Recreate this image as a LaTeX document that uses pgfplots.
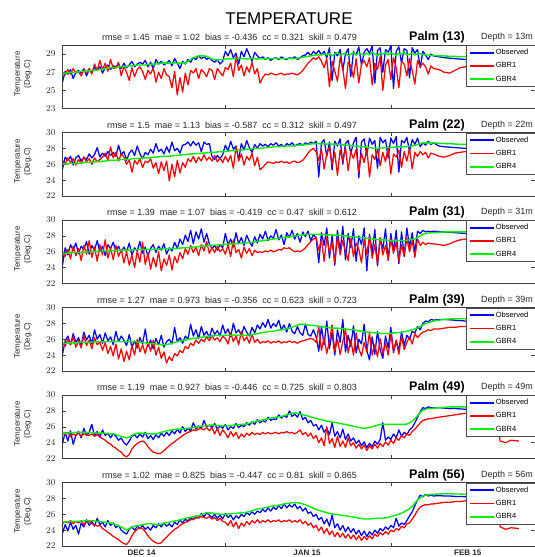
\documentclass[border=0pt]{standalone}
\usepackage{pgfplots}
\usepackage{pgfplotstable}
\pgfplotsset{compat=1.18}
\usepackage{fontspec}
\setmainfont{Liberation Sans}
\definecolor{obsblue}{RGB}{0,0,255}
\definecolor{gbrred}{RGB}{255,0,0}
\definecolor{gbrgreen}{RGB}{0,240,0}

\pgfplotstableread{
x o r g
0.5 25.9 27.0 26.9
1 27.1 26.7 26.9
1.5 26.8 27.3 26.95
2 27.3 26.8 27.0
2.5 26.3 27.4 27.0
3 27.0 26.9 27.0
3.5 27.2 27.1 27.05
4 26.9 26.6 27.1
4.5 27.4 27.3 27.1
5 26.6 27.0 27.1
5.5 27.3 27.4 27.15
6 27.0 26.8 27.2
6.5 27.5 27.9 27.2
7 27.2 27.2 27.25
7.5 27.6 28.3 27.3
8 26.9 27.3 27.35
8.5 27.5 28.0 27.4
9 27.8 27.1 27.45
9.5 27.3 28.4 27.5
10 27.7 27.4 27.5
10.5 27.6 27.5 27.5
11 27.9 28.1 27.55
11.5 27.4 26.6 27.6
12 28.0 27.6 27.6
12.5 27.5 27.0 27.65
13 27.8 26.1 27.7
13.5 28.2 27.5 27.7
14 27.6 26.5 27.75
14.5 27.9 27.3 27.8
15 28.1 27.6 27.8
15.5 27.9 27.1 27.8
16 28.3 26.2 27.8
16.5 27.6 27.2 27.85
17 28.1 26.8 27.9
17.5 27.4 27.5 27.9
18 28.4 25.9 27.9
18.5 27.9 27.0 27.95
19 28.2 26.3 28.0
19.5 27.8 27.4 28.0
20 28.0 26.7 28.0
20.5 28.3 26.5 28.0
21 27.7 25.3 28.0
21.5 28.5 27.1 28.05
22 28.0 24.5 28.0
22.5 27.4 26.4 28.0
23 28.2 24.8 28.05
23.5 27.9 26.9 28.0
24 28.4 25.6 28.2
24.5 28.1 27.2 28.4
25 28.6 26.9 28.6
25.5 28.4 27.4 28.7
26 28.8 26.3 28.8
26.5 28.5 27.3 28.8
27 28.7 27.0 28.8
27.5 28.4 26.5 28.75
28 28.6 27.4 28.6
28.5 28.3 27.2 28.45
29 28.1 26.2 28.4
29.5 28.4 27.4 28.35
30 27.9 27.0 28.4
30.5 28.2 26.6 28.4
31 29.3 27.5 28.45
31.5 28.8 27.3 28.5
32 29.5 28.0 28.45
32.5 28.6 26.5 28.5
33 29.1 28.7 28.5
33.5 27.9 27.2 28.55
34 29.3 27.8 28.5
34.5 28.7 26.6 28.5
35 29.6 27.6 28.45
35.5 28.9 27.0 28.5
36 28.2 28.1 28.5
36.5 29.2 26.8 28.5
37 28.8 27.4 28.45
37.5 28.5 25.8 28.5
38 28.7 26.4 28.5
38.5 28.4 26.8 28.45
39 28.6 26.7 28.5
39.5 28.3 26.9 28.5
40 28.5 26.8 28.5
40.5 28.6 26.7 28.55
41 28.4 26.8 28.5
41.5 28.7 26.9 28.5
42 28.5 26.7 28.5
42.5 28.4 26.8 28.5
43 28.6 26.8 28.55
43.5 28.5 26.9 28.5
44 28.7 26.8 28.5
44.5 28.4 26.7 28.55
45 28.6 26.9 28.6
45.5 28.8 27.2 28.65
46 28.9 27.6 28.7
46.5 29.2 28.0 28.75
47 28.8 28.3 28.8
47.5 29.3 28.6 28.85
48 29.0 28.4 28.9
48.5 29.4 28.7 28.9
49 28.9 28.2 28.95
49.5 29.3 27.5 29.0
50 28.6 28.5 28.9
50.5 29.7 25.4 29.1
51 26.1 28.2 28.8
51.5 29.2 27.1 29.0
52 28.8 26.0 29.2
52.5 29.5 28.6 28.9
53 27.2 27.4 29.0
53.5 29.0 25.2 29.1
54 29.6 28.1 28.85
54.5 26.5 27.7 29.0
55 29.3 26.4 29.2
55.5 28.9 28.5 28.9
56 29.8 25.8 29.1
56.5 27.8 27.9 29.0
57 29.2 28.3 28.9
57.5 29.6 27.6 29.1
58 29.1 28.6 28.9
58.5 29.9 25.6 29.2
59 25.8 28.0 29.0
59.5 29.4 27.3 28.8
60 29.7 28.7 29.1
60.5 27.0 25.0 29.0
61 29.5 27.8 29.2
61.5 29.2 28.4 28.9
62 29.9 26.2 29.1
62.5 25.2 28.6 29.0
63 29.3 27.5 28.85
63.5 29.8 25.3 29.1
64 28.0 28.2 29.0
64.5 29.6 27.9 29.2
65 29.4 26.6 28.9
65.5 26.4 28.5 29.0
66 29.7 27.2 29.1
66.5 29.1 25.7 28.9
67 29.5 28.3 29.0
67.5 27.5 27.6 29.05
68 29.3 28.0 28.95
68.5 28.9 27.6 28.9
69 28.4 26.8 28.9
69.5 29.0 27.7 28.85
70 28.8 27.4 28.85
71 28.7 27.3 28.8
72 28.6 27.0 28.8
73 28.55 26.9 28.75
74 28.5 27.2 28.75
75 28.45 27.5 28.7
76 28.4 27.6 28.7
78 28.35 27.6 28.65
80 28.3 27.5 28.6
82 28.25 27.4 28.6
84 28.2 27.3 28.6
86 28.2 27.3 28.6
}\PA

\pgfplotstableread{
x o r g
0.5 25.4 26.5 26.0
1 26.9 26.0 26.1
1.5 26.5 26.8 26.0
2 27.0 26.2 26.1
2.5 25.9 26.7 26.1
3 26.8 25.9 26.15
3.5 27.1 26.6 26.1
4 26.4 26.1 26.2
4.5 26.9 26.9 26.2
5 26.6 26.3 26.25
5.5 27.3 26.7 26.2
6 26.8 26.0 26.3
6.5 27.2 26.8 26.3
7 28.1 26.3 26.35
7.5 26.9 26.6 26.3
8 27.4 26.9 26.4
8.5 27.0 27.4 26.4
9 27.6 26.5 26.45
9.5 27.1 28.2 26.5
10 27.5 26.8 26.5
10.5 27.0 27.5 26.5
11 28.4 26.4 26.55
11.5 27.2 27.3 26.6
12 27.6 26.9 26.6
12.5 26.5 26.0 26.65
13 27.4 26.6 26.6
13.5 27.8 25.0 26.7
14 27.1 26.5 26.7
14.5 28.3 26.0 26.7
15 27.3 26.7 26.75
15.5 26.7 25.6 26.8
16 27.5 26.4 26.8
16.5 27.2 26.2 26.8
17 27.9 26.7 26.85
17.5 27.4 25.5 26.9
18 28.6 26.2 26.9
18.5 27.6 24.8 26.95
19 27.9 26.3 27.0
19.5 27.3 25.2 27.0
20 28.2 26.4 27.0
20.5 27.5 23.9 27.0
21 28.8 26.0 27.05
21.5 27.7 24.4 27.1
22 28.0 26.5 27.1
22.5 27.4 24.9 27.15
23 28.4 26.2 27.2
23.5 28.5 25.6 27.2
24 28.8 26.7 27.25
24.5 28.3 26.3 27.3
25 28.9 27.0 27.3
25.5 28.4 26.2 27.35
26 28.7 26.9 27.35
26.5 27.6 26.4 27.4
27 28.8 27.2 27.4
27.5 28.5 26.5 27.45
28 28.6 26.9 27.5
28.5 27.0 26.4 27.5
29 26.6 27.1 27.5
29.5 27.1 26.3 27.55
30 26.7 26.8 27.6
30.5 27.2 26.2 27.6
31 28.4 27.0 27.6
31.5 27.7 26.3 27.65
32 28.9 27.1 27.7
32.5 27.9 25.5 27.7
33 28.3 28.2 27.75
33.5 26.6 26.4 27.8
34 28.6 27.3 27.8
34.5 27.8 25.9 27.85
35 29.0 27.0 27.9
35.5 28.1 26.5 27.9
36 27.5 27.4 27.95
36.5 28.5 25.8 28.0
37 28.0 26.9 28.0
37.5 28.6 25.3 28.0
38 28.3 25.6 28.05
38.5 28.5 26.0 28.1
39 28.2 26.3 28.1
39.5 28.6 26.2 28.15
40 28.4 26.1 28.2
40.5 28.7 26.3 28.2
41 28.3 26.2 28.2
41.5 28.5 26.4 28.25
42 28.2 26.2 28.3
42.5 28.6 26.3 28.3
43 28.4 26.1 28.3
43.5 28.7 26.3 28.3
44 28.3 26.4 28.35
44.5 28.5 26.2 28.4
45 28.6 26.3 28.4
45.5 28.4 26.5 28.45
46 28.7 26.9 28.5
46.5 28.5 27.4 28.5
47 28.8 27.8 28.55
47.5 28.6 28.0 28.6
48 28.9 27.6 28.6
48.5 24.4 26.5 28.6
49 28.7 27.9 28.55
49.5 29.1 25.4 28.6
50 27.0 27.3 28.5
50.5 28.8 28.2 28.6
51 25.3 26.0 28.5
51.5 28.9 27.5 28.55
52 28.3 24.6 28.5
52.5 29.2 27.8 28.5
53 26.0 26.4 28.45
53.5 28.6 28.1 28.4
54 29.0 25.2 28.4
54.5 27.4 27.6 28.35
55 28.7 26.7 28.3
55.5 29.4 27.9 28.3
56 24.3 25.0 28.25
56.5 28.8 27.4 28.2
57 29.2 26.2 28.2
57.5 27.1 28.0 28.15
58 29.3 24.4 28.1
58.5 28.5 27.2 28.05
59 29.0 26.6 28.0
59.5 25.5 27.9 28.0
60 29.4 25.8 28.05
60.5 28.7 27.5 28.05
61 29.1 26.3 28.1
61.5 26.8 28.2 28.1
62 29.3 24.8 28.1
62.5 28.6 27.3 28.15
63 29.5 26.9 28.15
63.5 25.0 27.8 28.2
64 29.0 25.6 28.2
64.5 28.7 27.6 28.2
65 29.4 26.4 28.2
65.5 27.6 28.0 28.25
66 29.1 25.4 28.3
66.5 28.5 27.5 28.4
67 29.3 27.0 28.5
67.5 28.2 27.6 28.6
68 28.7 27.2 28.7
68.5 28.4 27.5 28.7
69 28.9 26.8 28.7
69.5 28.5 27.4 28.65
70 28.7 27.3 28.7
71 28.3 27.0 28.65
72 28.2 26.9 28.6
73 28.15 27.1 28.6
74 28.1 27.4 28.55
75 28.05 27.5 28.5
76 28.0 27.6 28.5
78 28.0 27.6 28.5
80 27.95 27.6 28.45
82 27.9 27.5 28.4
84 27.9 27.5 28.4
86 27.9 27.5 28.4
}\PB

\pgfplotstableread{
x o r g
0.5 24.3 26.0 25.8
1 26.5 25.4 25.8
1.5 25.6 26.3 25.85
2 26.9 25.1 25.85
2.5 26.2 26.7 25.9
3 27.1 25.5 25.9
3.5 25.8 26.4 25.9
4 26.7 24.9 25.95
4.5 26.3 26.8 25.95
5 27.3 25.7 26.0
5.5 25.7 27.4 26.0
6 26.8 25.3 26.0
6.5 26.2 26.6 26.05
7 27.4 24.8 26.05
7.5 26.0 26.9 26.1
8 26.7 25.6 26.1
8.5 25.5 27.5 26.1
9 26.9 25.2 26.1
9.5 26.4 26.5 26.15
10 27.2 25.0 26.15
10.5 26.1 26.8 26.2
11 26.7 25.4 26.2
11.5 25.9 26.3 26.2
12 26.6 24.6 26.2
12.5 26.0 26.0 26.2
13 27.1 24.3 26.2
13.5 25.6 25.6 26.25
14 26.5 24.0 26.25
14.5 26.1 26.1 26.25
15 27.3 24.7 26.3
15.5 25.8 27.2 26.3
16 26.6 24.4 26.3
16.5 25.5 25.8 26.3
17 26.4 23.8 26.3
17.5 26.9 25.3 26.3
18 25.9 24.1 26.3
18.5 26.7 26.0 26.3
19 26.2 23.6 26.35
19.5 27.0 25.1 26.35
20 25.7 24.3 26.35
20.5 26.5 25.6 26.4
21 26.1 23.7 26.4
21.5 27.2 25.4 26.4
22 26.4 24.6 26.45
22.5 27.6 25.9 26.45
23 26.9 25.1 26.5
23.5 28.1 26.4 26.5
24 27.3 25.7 26.5
24.5 28.7 26.8 26.55
25 27.0 25.9 26.6
25.5 28.5 26.6 26.6
26 27.6 25.5 26.65
26.5 28.9 26.9 26.7
27 27.2 26.1 26.7
27.5 28.3 27.3 26.75
28 27.0 25.8 26.8
28.5 26.4 26.5 26.8
29 26.8 25.9 26.85
29.5 26.2 26.7 26.85
30 26.9 26.0 26.9
30.5 26.5 26.4 26.9
31 28.3 25.7 26.95
31.5 26.9 26.9 26.95
32 27.6 25.4 27.0
32.5 26.6 27.5 27.0
33 28.4 25.9 27.0
33.5 27.0 26.3 27.05
34 27.8 25.2 27.05
34.5 26.8 26.6 27.1
35 28.1 25.8 27.1
35.5 27.3 26.4 27.15
36 26.7 25.5 27.2
36.5 27.9 26.2 27.25
37 27.1 25.9 27.3
37.5 28.2 26.0 27.35
38 27.6 25.9 27.4
38.5 28.6 26.1 27.45
39 27.4 26.0 27.5
39.5 28.0 26.2 27.55
40 27.7 26.0 27.6
40.5 28.8 26.1 27.65
41 27.5 26.3 27.7
41.5 28.1 26.2 27.75
42 26.9 26.5 27.8
42.5 28.4 26.4 27.85
43 27.8 26.5 27.9
43.5 28.7 26.2 27.95
44 27.6 26.0 28.0
44.5 28.3 26.1 28.05
45 27.2 26.0 28.1
45.5 28.5 26.2 28.1
46 27.9 26.5 28.15
46.5 28.6 26.9 28.2
47 27.4 27.3 28.2
47.5 28.2 27.6 28.2
48 27.7 27.8 28.2
48.5 24.6 26.2 28.2
49 28.4 27.5 28.15
49.5 26.8 24.8 28.2
50 29.0 27.8 28.1
50.5 25.2 25.9 28.15
51 28.1 27.2 28.1
51.5 24.3 24.6 28.1
52 28.7 27.9 28.1
52.5 26.0 25.6 28.05
53 29.2 27.4 28.0
53.5 25.0 26.0 28.0
54 28.3 24.9 27.95
54.5 26.5 27.7 27.9
55 28.9 25.4 27.9
55.5 24.8 27.1 27.85
56 28.0 26.3 27.8
56.5 26.9 24.6 27.8
57 29.0 27.6 27.75
57.5 23.6 25.7 27.7
58 28.2 27.9 27.65
58.5 25.9 25.2 27.6
59 28.8 26.9 27.6
59.5 24.2 24.5 27.55
60 27.7 27.8 27.5
60.5 26.3 25.6 27.5
61 28.9 26.8 27.5
61.5 24.9 25.0 27.45
62 28.3 27.6 27.4
62.5 26.1 25.8 27.4
63 28.7 27.2 27.4
63.5 24.5 24.8 27.4
64 28.5 26.9 27.45
64.5 25.4 25.5 27.4
65 29.0 27.7 27.45
65.5 26.6 26.0 27.5
66 28.4 27.4 27.55
66.5 25.9 25.3 27.6
67 28.6 27.6 27.8
67.5 28.3 26.8 28.0
68 28.7 27.2 28.2
68.5 28.5 26.9 28.3
69 28.6 27.1 28.35
69.5 28.5 27.0 28.4
70 28.6 27.0 28.4
71 28.55 26.9 28.45
72 28.5 26.8 28.5
73 28.45 27.0 28.5
74 28.4 27.3 28.5
75 28.35 27.5 28.5
76 28.3 27.6 28.5
78 28.3 27.6 28.45
80 28.25 27.6 28.4
82 28.2 27.5 28.4
84 28.2 27.5 28.4
86 28.2 27.5 28.4
}\PC

\pgfplotstableread{
x o r g
0.5 24.1 25.6 25.5
1 25.8 25.1 25.5
1.5 26.4 26.0 25.5
2 25.3 25.3 25.55
2.5 26.7 26.3 25.55
3 25.6 25.0 25.55
3.5 26.2 25.8 25.6
4 25.2 24.9 25.6
4.5 26.9 26.5 25.6
5 25.9 25.2 25.6
5.5 26.5 25.9 25.6
6 25.4 24.8 25.65
6.5 27.2 26.2 25.65
7 26.0 25.3 25.65
7.5 26.6 25.7 25.7
8 25.5 24.6 25.7
8.5 26.8 25.6 25.7
9 25.8 24.2 25.7
9.5 26.3 25.1 25.7
10 25.3 23.9 25.7
10.5 27.0 25.4 25.7
11 25.7 23.5 25.75
11.5 26.4 24.8 25.7
12 25.9 23.2 25.7
12.5 25.2 24.5 25.7
13 26.6 23.4 25.7
13.5 25.0 25.2 25.7
14 25.8 24.0 25.7
14.5 24.9 26.0 25.65
15 26.2 24.4 25.6
15.5 25.4 25.3 25.6
16 27.3 24.2 25.55
16.5 25.1 25.6 25.5
17 25.9 24.5 25.5
17.5 24.8 25.9 25.45
18 26.1 24.0 25.4
18.5 25.3 25.0 25.35
19 26.5 23.6 25.3
19.5 25.0 24.4 25.3
20 25.7 23.0 25.35
20.5 26.0 23.8 25.4
21 25.4 23.3 25.5
21.5 27.5 24.2 25.6
22 25.7 23.9 25.7
22.5 26.2 24.6 25.75
23 25.5 24.3 25.8
23.5 26.4 25.1 25.9
24 26.0 24.8 26.0
24.5 27.9 25.5 26.05
25 26.4 25.2 26.1
25.5 27.2 25.9 26.15
26 26.1 25.5 26.2
26.5 27.6 26.0 26.25
27 26.5 25.7 26.3
27.5 27.0 26.3 26.35
28 26.2 25.8 26.4
28.5 27.4 26.5 26.4
29 26.6 25.9 26.45
29.5 27.1 26.2 26.5
30 26.4 25.7 26.5
30.5 27.8 26.4 26.5
31 26.7 26.1 26.5
31.5 27.3 25.4 26.5
32 26.3 26.8 26.5
32.5 28.0 25.7 26.55
33 26.8 26.4 26.5
33.5 27.2 25.3 26.5
34 26.5 27.0 26.5
34.5 27.6 25.8 26.5
35 26.9 26.3 26.5
35.5 26.4 25.5 26.55
36 27.5 26.6 26.6
36.5 26.8 25.6 26.65
37 27.8 26.0 26.7
37.5 27.3 25.5 26.8
38 28.1 25.7 26.85
38.5 27.5 25.6 26.9
39 28.5 25.8 26.95
39.5 27.4 25.5 27.0
40 28.0 25.7 27.0
40.5 27.6 25.6 27.1
41 28.4 25.8 27.15
41.5 27.2 25.5 27.2
42 27.8 25.7 27.25
42.5 26.9 25.6 27.3
43 28.0 25.8 27.4
43.5 27.0 25.6 27.5
44 26.7 25.7 27.65
44.5 27.6 25.5 27.8
45 26.8 25.7 27.9
45.5 26.5 25.8 27.9
46 27.9 25.9 27.85
46.5 26.6 26.0 27.8
47 26.4 26.1 27.75
47.5 27.2 26.0 27.75
48 26.3 25.6 27.7
48.5 24.5 27.6 27.65
49 27.6 24.6 27.6
49.5 25.3 26.2 27.55
50 28.3 24.2 27.5
50.5 24.8 25.8 27.45
51 26.9 27.8 27.4
51.5 24.0 24.5 27.4
52 27.2 26.0 27.4
52.5 25.6 24.1 27.35
53 28.5 25.7 27.3
53.5 24.4 27.2 27.3
54 26.5 24.3 27.25
54.5 25.1 25.9 27.2
55 27.7 24.0 27.2
55.5 24.3 26.8 27.1
56 26.0 24.8 27.05
56.5 25.4 23.9 27.0
57 27.9 25.6 26.95
57.5 24.6 24.4 26.9
58 23.4 26.9 26.9
58.5 26.3 24.0 26.85
59 24.1 25.3 26.8
59.5 27.0 23.8 26.8
60 24.7 26.1 26.75
60.5 23.6 24.2 26.7
61 26.4 25.5 26.7
61.5 24.9 24.0 26.7
62 27.5 26.6 26.75
62.5 24.3 24.5 26.8
63 25.8 25.9 26.8
63.5 24.6 24.1 26.85
64 26.9 26.4 26.9
64.5 25.2 24.7 26.95
65 26.5 25.6 27.0
65.5 26.0 26.3 27.1
66 27.0 25.4 27.2
66.5 26.8 26.7 27.3
67 27.6 26.2 27.4
67.5 27.2 26.6 27.6
68 28.0 26.9 27.8
68.5 28.3 27.0 28.0
69 28.2 27.2 28.1
69.5 28.5 27.1 28.2
70 28.4 27.3 28.3
71 28.5 27.3 28.4
72 28.5 27.4 28.5
73 28.45 27.5 28.55
74 28.4 27.5 28.6
75 28.35 27.6 28.6
76 28.3 27.6 28.6
78 28.3 27.6 28.55
80 28.25 27.6 28.5
82 28.2 27.5 28.5
84 28.2 27.5 28.5
86 28.2 27.5 28.5
}\PD

\pgfplotstableread{
x o r g
0.5 23.9 25.2 25.2
1 25.3 25.0 25.2
1.5 24.2 25.3 25.2
2 25.5 24.8 25.25
2.5 23.8 25.1 25.25
3 24.9 24.9 25.3
3.5 25.4 25.2 25.3
4 24.6 24.8 25.3
4.5 25.8 25.1 25.3
5 24.9 25.0 25.3
5.5 25.3 24.9 25.3
6 26.3 25.1 25.25
6.5 24.8 24.8 25.25
7 25.4 25.0 25.2
7.5 24.7 24.7 25.2
8 25.6 24.5 25.2
8.5 24.9 24.3 25.15
9 25.2 24.0 25.15
9.5 24.6 23.8 25.1
10 25.1 23.5 25.1
10.5 24.8 23.3 25.0
11 24.3 23.0 24.9
11.5 24.6 22.8 24.8
12 24.0 22.4 24.7
12.5 23.7 22.2 24.6
13 24.2 22.5 24.7
13.5 24.8 23.2 24.9
14 25.0 23.6 25.1
14.5 24.6 23.9 25.2
15 25.1 24.1 25.2
15.5 24.7 24.2 25.2
16 25.3 24.0 25.15
16.5 24.5 23.5 25.1
17 24.9 23.1 25.1
17.5 24.4 22.8 25.1
18 25.0 22.7 25.1
18.5 24.6 22.6 25.2
19 25.2 22.7 25.3
19.5 24.8 23.0 25.4
20 25.3 23.3 25.5
20.5 24.9 23.6 25.55
21 25.5 23.9 25.6
21.5 25.1 24.1 25.65
22 25.7 24.4 25.7
22.5 25.2 24.6 25.7
23 26.0 24.9 25.75
23.5 25.4 25.1 25.8
24 25.8 25.3 25.8
24.5 25.5 25.4 25.85
25 26.5 25.6 25.9
25.5 25.7 25.5 25.95
26 26.1 25.7 26.0
26.5 25.8 25.8 26.05
27 26.8 25.6 26.1
27.5 26.0 25.9 26.15
28 26.2 25.5 26.2
28.5 25.9 25.9 26.2
29 26.4 25.1 26.2
29.5 25.7 25.8 26.15
30 26.1 24.9 26.15
30.5 25.8 25.6 26.1
31 26.3 25.2 26.1
31.5 25.6 24.6 26.1
32 26.0 25.4 26.15
32.5 25.8 24.8 26.2
33 26.4 25.3 26.2
33.5 25.9 24.5 26.25
34 26.2 25.1 26.3
34.5 26.0 24.7 26.3
35 26.5 25.2 26.35
35.5 26.2 24.9 26.45
36 26.6 25.3 26.55
36.5 26.3 25.0 26.65
37 26.9 25.2 26.75
37.5 26.5 25.0 26.8
38 26.8 25.3 26.85
38.5 26.6 25.1 26.95
39 27.2 25.3 27.0
39.5 26.8 25.1 27.1
40 27.0 25.2 27.15
40.5 26.9 25.3 27.2
41 27.5 25.1 27.25
41.5 27.1 25.3 27.3
42 27.4 25.2 27.4
42.5 27.2 25.4 27.5
43 28.0 25.2 27.6
43.5 27.3 25.3 27.7
44 27.6 25.1 27.75
44.5 27.2 25.3 27.7
45 27.9 25.6 27.6
45.5 26.9 25.0 27.5
46 27.2 25.3 27.45
46.5 26.5 24.8 27.35
47 26.8 25.2 27.25
47.5 26.1 24.5 27.15
48 26.3 24.9 27.05
48.5 25.6 24.0 26.95
49 26.2 24.6 26.9
49.5 25.3 23.6 26.8
50 25.8 26.0 26.7
50.5 25.0 23.9 26.65
51 26.5 24.5 26.6
51.5 24.8 23.4 26.55
52 25.4 24.8 26.5
52.5 24.6 23.5 26.4
53 25.7 24.2 26.35
53.5 24.4 23.4 26.3
54 25.1 24.6 26.2
54.5 24.2 23.6 26.15
55 24.6 24.0 26.05
55.5 23.9 23.3 26.0
56 24.3 23.8 25.9
56.5 23.6 23.2 25.85
57 24.1 23.7 25.8
57.5 23.4 23.0 25.85
58 23.9 23.6 25.9
58.5 23.5 23.2 26.0
59 24.2 23.8 26.1
59.5 23.8 23.3 26.2
60 24.4 23.9 26.3
60.5 26.5 23.5 26.3
61 24.3 24.1 26.3
61.5 24.7 23.7 26.3
62 24.4 24.3 26.3
62.5 25.1 23.9 26.3
63 24.6 24.6 26.3
63.5 25.6 24.3 26.3
64 24.8 24.9 26.3
64.5 25.3 24.6 26.3
65 25.0 25.1 26.35
65.5 25.6 24.9 26.5
66 25.9 25.4 26.7
66.5 26.5 25.7 27.0
67 27.2 26.1 27.4
67.5 27.9 26.5 27.8
68 28.4 26.8 28.1
68.5 28.3 26.9 28.2
69 28.5 27.0 28.3
69.5 28.4 27.0 28.3
70 28.4 27.1 28.35
71 28.4 27.2 28.4
72 28.35 27.3 28.45
73 28.3 27.4 28.5
74 28.3 27.5 28.5
75 28.25 27.6 28.5
76 28.2 27.7 28.5
78 28.2 27.8 28.5
80 28.2 27.8 28.45
81.5 28.15 27.7 28.45
82.5 28.1 24.2 28.4
83.5 28.1 24.0 28.4
84.5 28.1 24.3 28.4
86 28.1 24.2 28.4
}\PE

\pgfplotstableread{
x o r g
0.5 23.6 24.8 25.0
1 24.7 25.1 25.0
1.5 23.9 24.9 25.05
2 25.0 25.2 25.05
2.5 24.1 24.8 25.1
3 24.6 25.1 25.1
3.5 23.5 24.9 25.1
4 24.9 25.2 25.15
4.5 24.4 24.7 25.15
5 25.3 25.0 25.2
5.5 24.6 25.1 25.2
6 25.1 24.8 25.2
6.5 24.5 24.7 25.15
7 25.5 24.5 25.1
7.5 24.7 24.6 25.1
8 25.0 24.2 25.05
8.5 24.4 24.0 25.0
9 25.2 23.7 24.95
9.5 24.6 23.5 24.9
10 24.9 23.2 24.8
10.5 24.3 23.0 24.7
11 24.6 22.8 24.55
11.5 24.0 22.5 24.4
12 23.7 22.3 24.2
12.5 23.5 22.2 24.0
13 24.1 22.6 24.2
13.5 24.4 23.3 24.4
14 24.0 23.8 24.5
14.5 24.5 24.1 24.55
15 24.2 24.3 24.6
15.5 24.6 24.2 24.7
16 24.1 23.8 24.75
16.5 24.4 23.3 24.8
17 24.0 22.9 24.8
17.5 24.6 22.6 24.75
18 24.3 22.4 24.7
18.5 24.8 22.3 24.7
19 24.4 22.4 24.75
19.5 24.9 22.8 24.85
20 24.5 23.1 24.95
20.5 24.8 23.5 25.0
21 24.4 23.8 25.1
21.5 25.0 24.1 25.15
22 24.7 24.3 25.2
22.5 25.3 24.6 25.3
23 24.9 24.8 25.4
23.5 25.4 25.0 25.5
24 25.1 25.1 25.55
24.5 25.6 25.3 25.6
25 25.3 25.4 25.7
25.5 25.8 25.5 25.75
26 25.5 25.6 25.8
26.5 26.1 25.7 25.95
27 25.7 25.6 26.1
27.5 26.2 25.5 26.2
28 25.9 25.7 26.2
28.5 25.6 25.4 26.15
29 26.0 25.6 26.1
29.5 25.5 25.2 26.05
30 25.9 25.5 26.0
30.5 25.4 25.1 26.0
31 26.1 25.0 26.0
31.5 25.6 24.6 26.05
32 25.9 25.2 26.05
32.5 25.3 24.4 26.1
33 25.8 25.0 26.1
33.5 25.5 24.2 26.15
34 26.0 24.9 26.2
34.5 25.7 24.5 26.2
35 26.2 25.1 26.25
35.5 25.9 24.7 26.35
36 26.3 25.2 26.45
36.5 26.0 24.9 26.55
37 26.4 25.3 26.65
37.5 26.2 24.9 26.7
38 26.6 25.2 26.75
38.5 26.3 25.0 26.85
39 26.8 25.3 26.9
39.5 26.4 25.0 27.0
40 26.9 25.2 27.05
40.5 26.6 25.1 27.1
41 27.1 25.3 27.15
41.5 26.7 25.0 27.2
42 27.3 25.2 27.3
42.5 26.8 25.1 27.35
43 27.2 25.3 27.4
43.5 26.9 25.0 27.45
44 27.3 25.2 27.5
44.5 26.7 25.0 27.45
45 27.0 25.3 27.4
45.5 26.4 24.8 27.3
46 26.8 25.1 27.2
46.5 26.1 24.6 27.05
47 26.3 24.9 26.9
47.5 25.7 24.3 26.75
48 26.0 24.6 26.6
48.5 25.3 23.9 26.5
49 25.6 24.4 26.4
49.5 24.8 23.6 26.3
50 25.4 24.2 26.2
50.5 24.5 23.4 26.1
51 25.9 23.9 26.05
51.5 24.3 23.2 26.0
52 24.8 23.7 25.95
52.5 24.0 23.1 25.9
53 24.6 23.6 25.85
53.5 23.8 23.0 25.8
54 24.4 23.5 25.75
54.5 23.7 22.9 25.7
55 24.2 23.4 25.65
55.5 23.5 22.8 25.6
56 24.0 23.3 25.5
56.5 23.3 22.7 25.45
57 23.9 23.2 25.4
57.5 23.2 22.8 25.4
58 23.8 23.3 25.4
58.5 23.4 22.9 25.45
59 24.0 23.5 25.5
59.5 23.6 23.2 25.5
60 24.2 23.7 25.5
60.5 23.9 23.4 25.5
61 24.4 23.8 25.55
61.5 24.1 23.5 25.6
62 24.6 24.0 25.7
62.5 24.3 23.8 25.8
63 25.5 24.2 25.9
63.5 24.5 24.0 26.0
64 24.9 24.5 26.15
64.5 24.7 24.3 26.3
65 25.2 24.8 26.5
65.5 25.8 24.9 26.7
66 26.3 25.4 27.0
66.5 27.1 25.9 27.4
67 27.8 26.5 27.8
67.5 28.4 26.9 28.1
68 28.2 27.1 28.3
68.5 28.5 27.2 28.4
69 28.3 27.2 28.45
69.5 28.4 27.3 28.5
70 28.3 27.3 28.5
71 28.35 27.4 28.55
72 28.3 27.5 28.6
73 28.3 27.5 28.6
74 28.25 27.6 28.55
75 28.25 27.6 28.55
76 28.2 27.7 28.5
78 28.2 27.8 28.5
80 28.2 27.8 28.5
81.5 28.15 27.7 28.45
82.5 28.1 24.4 28.45
83.5 28.1 24.1 28.4
84.5 28.1 24.3 28.4
86 28.1 24.2 28.4
}\PF

\pgfplotsset{
  legend image code/.code={\draw[#1, line width=1.6pt] (0pt,0pt) -- (24pt,0pt);},
  panel/.style={
    scale only axis, width=472.5pt, height=63.5pt,
    anchor=north west,
    xmin=0.5, xmax=89, ymax=30,
    xtick={31,62}, xticklabels={,,},
    axis line style={black!75, line width=0.5pt},
    every tick/.style={black!75, line width=0.5pt},
    major tick length=3.5pt,
    tick align=inside,
    yticklabel style={font=\fontsize{9}{9}\selectfont, text=black!85, xshift=-3.5pt},
    legend style={at={(rel axis cs:0.8540,1)}, anchor=north west, draw=black!70,
      fill=white, line width=0.5pt, font=\fontsize{7.5}{7.5}\selectfont,
      inner xsep=2.5pt, inner ysep=2.5pt, row sep=3.5pt,
      nodes={inner sep=1.5pt}, legend cell align=left},
  },
  obs/.style={color=obsblue, line width=1.25pt, line join=round},
  mod1/.style={color=gbrred, line width=1.25pt, line join=round},
  mod4/.style={color=gbrgreen, line width=1.4pt, line join=round},
}

\newcommand{\panel}[5]{%
  \begin{axis}[panel, at={(62.5pt,-#2pt)}, ymin=#3, ytick={#4}, #5]
    \addplot[obs] table[x=x,y=o]{#1};
    \addlegendentry{Observed\hspace*{14pt}}
    \addplot[mod1] table[x=x,y=r]{#1};
    \addlegendentry{GBR1}
    \addplot[mod4] table[x=x,y=g]{#1};
    \addlegendentry{GBR4}
  \end{axis}}

\newcommand{\sep}{\hspace{0.55em}}
\newcommand{\heads}[4]{% top, stats, palm, depth
  \node[anchor=east, inner sep=0pt, font=\fontsize{9}{9}\selectfont, text=black!85] at (357pt,-#1pt+7.5pt) {#2};
  \node[anchor=west, inner sep=0pt, font=\bfseries\fontsize{12.5}{12.5}\selectfont] at (409pt,-#1pt+7.5pt) {#3};
  \node[anchor=west, inner sep=0pt, font=\fontsize{9}{9}\selectfont, text=black!85] at (481pt,-#1pt+7.5pt) {#4};
  \node[rotate=90, align=center, inner sep=0pt, font=\fontsize{8}{10}\selectfont, text=black!85] at (23pt,-#1pt-29pt) {Temperature\\(Deg.C)};
}

\begin{document}
\begin{tikzpicture}
\path[use as bounding box] (0pt,0pt) rectangle (535pt,-557pt);

\panel{\PA}{45}{23}{23,25,27,29}{}
\panel{\PB}{132.5}{22}{22,24,26,28,30}{}
\panel{\PC}{220}{22}{22,24,26,28,30}{}
\panel{\PD}{307.5}{22}{22,24,26,28,30}{}
\panel{\PE}{395}{22}{22,24,26,28,30}{}
\panel{\PF}{482.5}{22}{22,24,26,28,30}{extra x ticks={15.3,46.3,76.4}, extra x tick labels={DEC 14,JAN 15,FEB 15}, extra x tick style={major tick length=0pt, tick label style={font=\bfseries\fontsize{8}{8}\selectfont, text=black!85}}}

\node[inner sep=0pt, font=\fontsize{17}{17}\selectfont] at (289pt,-19pt) {TEMPERATURE};

\heads{45}{rmse = 1.45\sep mae = 1.02\sep bias = -0.436\sep cc = 0.321\sep skill = 0.479}{Palm (13)}{Depth = 13m}
\heads{132.5}{rmse = 1.5\sep mae = 1.13\sep bias = -0.587\sep cc = 0.312\sep skill = 0.497}{Palm (22)}{Depth = 22m}
\heads{220}{rmse = 1.39\sep mae = 1.07\sep bias = -0.419\sep cc = 0.47\sep skill = 0.612}{Palm (31)}{Depth = 31m}
\heads{307.5}{rmse = 1.27\sep mae = 0.973\sep bias = -0.356\sep cc = 0.623\sep skill = 0.723}{Palm (39)}{Depth = 39m}
\heads{395}{rmse = 1.19\sep mae = 0.927\sep bias = -0.446\sep cc = 0.725\sep skill = 0.803}{Palm (49)}{Depth = 49m}
\heads{482.5}{rmse = 1.02\sep mae = 0.825\sep bias = -0.447\sep cc = 0.81\sep skill = 0.865}{Palm (56)}{Depth = 56m}
\end{tikzpicture}
\end{document}
